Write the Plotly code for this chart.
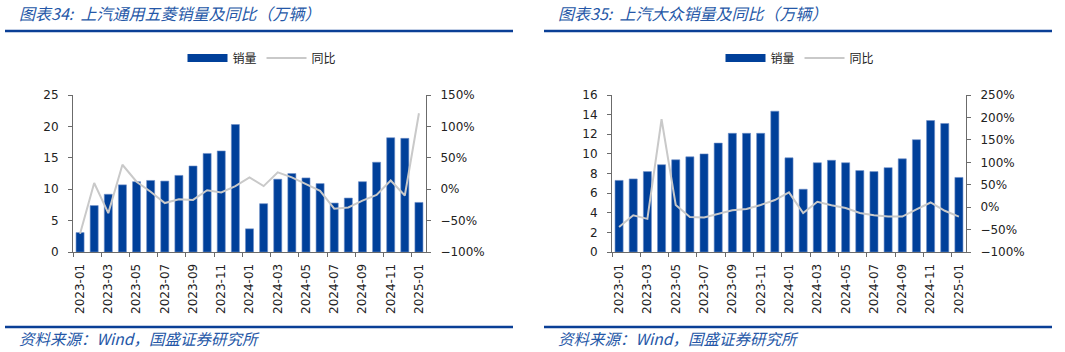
import plotly.graph_objects as go

months = ["2023-01","2023-02","2023-03","2023-04","2023-05","2023-06","2023-07","2023-08",
          "2023-09","2023-10","2023-11","2023-12","2024-01","2024-02","2024-03","2024-04",
          "2024-05","2024-06","2024-07","2024-08","2024-09","2024-10","2024-11","2024-12","2025-01"]

wuling_sales = [3.1, 7.4, 9.2, 10.7, 11.2, 11.4, 11.3, 12.2, 13.7, 15.7, 16.1, 20.3,
                3.7, 7.7, 11.6, 12.5, 11.8, 10.9, 7.8, 8.6, 11.2, 14.3, 18.2, 18.1, 7.9]
wuling_yoy = [-71, 10, -38, 39, 12, -4, -22, -16, -17, -1.5, -5, 5,
              19, 5, 27, 19, 8, -2.5, -31, -29, -18, -9, 14, -10, 121]

vw_sales = [7.3, 7.45, 8.2, 8.9, 9.4, 9.7, 10.0, 11.1, 12.1, 12.1, 12.1, 14.35,
            9.6, 6.4, 9.1, 9.35, 9.1, 8.3, 8.2, 8.6, 9.5, 11.45, 13.4, 13.1, 7.6]
vw_yoy = [-44, -18, -26, 196, 5, -22, -23, -15, -7, -4, 5, 16,
          33, -13, 12, 4.5, -2, -13, -18, -21, -21, -5, 10.5, -8, -21]

titles = ["图表34:  上汽通用五菱销量及同比（万辆）", "图表35:  上汽大众销量及同比（万辆）"]
source = "资料来源：Wind，国盛证券研究所"

BAR = "#00409A"
LINE = "#C9C9C9"
BLUE_TXT = "#2557A7"
RULE = "#0A3F96"
AX = "#6B6B6B"
FONT = "DejaVu Sans"
CJK = "Noto Sans CJK SC"

W, H = 1065, 352
def px_x(p): return p / W
def px_y(p):
    q = (p - 7.0) / 0.96
    return 1 - q / H

idx = list(range(len(months)))
tickv = idx[::2]
tickt = months[::2]
boundaries = [i - 0.5 for i in idx[::2]]

fig = go.Figure()

panels = [
    dict(sales=wuling_sales, yoy=wuling_yoy, xd=[px_x(73), px_x(426)], xa="x", ya="y", ya2="y2",
         yr=[0, 25], yd=5, y2r=[-100, 150], y2d=50, legend="legend"),
    dict(sales=vw_sales, yoy=vw_yoy, xd=[px_x(612), px_x(966)], xa="x2", ya="y3", ya2="y4",
         yr=[0, 16], yd=2, y2r=[-100, 250], y2d=50, legend="legend2"),
]

ydom = [px_y(252), px_y(95)]

for k, p in enumerate(panels):
    fig.add_trace(go.Bar(x=idx, y=p["sales"], name="销量", xaxis=p["xa"], yaxis=p["ya"],
                         marker=dict(color=BAR, line=dict(color="#6F8FC8", width=0.6)),
                         width=0.57, showlegend=False))
    fig.add_trace(go.Scatter(x=[None], y=[None], name="销量", mode="lines", xaxis=p["xa"], yaxis=p["ya"],
                             line=dict(color=BAR, width=8), legend=p["legend"]))
    fig.add_trace(go.Scatter(x=idx, y=p["yoy"], name="同比", mode="lines", xaxis=p["xa"], yaxis=p["ya2"],
                             line=dict(color=LINE, width=2), legend=p["legend"]))

common_y = dict(showgrid=False, zeroline=False, showline=True, linecolor=AX, linewidth=1,
                ticks="outside", ticklen=4, tickcolor=AX, ticklabelstandoff=7,
                tickfont=dict(family=FONT, size=12, color="#222"))
common_x = dict(showgrid=False, zeroline=False, showline=True, linecolor=AX, linewidth=1,
                range=[-0.5, 24.5], tickmode="array", tickvals=tickv, ticktext=tickt, tickangle=-90,
                ticks="", ticklabelstandoff=6, tickfont=dict(family=FONT, size=12, color="#222"),
                minor=dict(tickmode="array", tickvals=boundaries, ticks="outside", ticklen=4, tickcolor=AX))

fig.update_layout(
    xaxis=dict(domain=panels[0]["xd"], anchor="y", **common_x),
    yaxis=dict(domain=ydom, anchor="x", range=panels[0]["yr"], dtick=panels[0]["yd"], **common_y),
    yaxis2=dict(overlaying="y", side="right", anchor="x", range=panels[0]["y2r"], dtick=panels[0]["y2d"],
                ticksuffix="%", **common_y),
    xaxis2=dict(domain=panels[1]["xd"], anchor="y3", **common_x),
    yaxis3=dict(domain=ydom, anchor="x2", range=panels[1]["yr"], dtick=panels[1]["yd"], **common_y),
    yaxis4=dict(overlaying="y3", side="right", anchor="x2", range=panels[1]["y2r"], dtick=panels[1]["y2d"],
                ticksuffix="%", **common_y),
)

leg_common = dict(orientation="h", yanchor="middle", xanchor="center", font=dict(family=CJK, size=12, color="#222"),
                  bgcolor="rgba(0,0,0,0)", itemwidth=40, tracegroupgap=0)
fig.update_layout(
    legend=dict(x=px_x(262), y=px_y(58), **leg_common),
    legend2=dict(x=px_x(800), y=px_y(58), **leg_common),
    width=W, height=H, margin=dict(l=0, r=0, t=0, b=0),
    paper_bgcolor="white", plot_bgcolor="white", bargap=0.4, showlegend=True,
)

for k, (x0, x1, tx) in enumerate([(5, 513, 17), (544, 1052, 556)]):
    fig.add_shape(type="line", xref="paper", yref="paper", x0=px_x(x0), x1=px_x(x1),
                  y0=px_y(31), y1=px_y(31), line=dict(color=RULE, width=2.5))
    fig.add_shape(type="line", xref="paper", yref="paper", x0=px_x(x0), x1=px_x(x1),
                  y0=px_y(327), y1=px_y(327), line=dict(color=RULE, width=2.5))
    fig.add_annotation(xref="paper", yref="paper", x=px_x(tx), y=px_y(13), xanchor="left", yanchor="middle",
                       text="<i>" + titles[k] + "</i>", showarrow=False,
                       font=dict(family=CJK, size=16, color=BLUE_TXT))
    fig.add_annotation(xref="paper", yref="paper", x=px_x(tx), y=px_y(338), xanchor="left", yanchor="middle",
                       text="<i>" + source + "</i>", showarrow=False,
                       font=dict(family=CJK, size=15.5, color=BLUE_TXT))

fig.write_html("out.html")
